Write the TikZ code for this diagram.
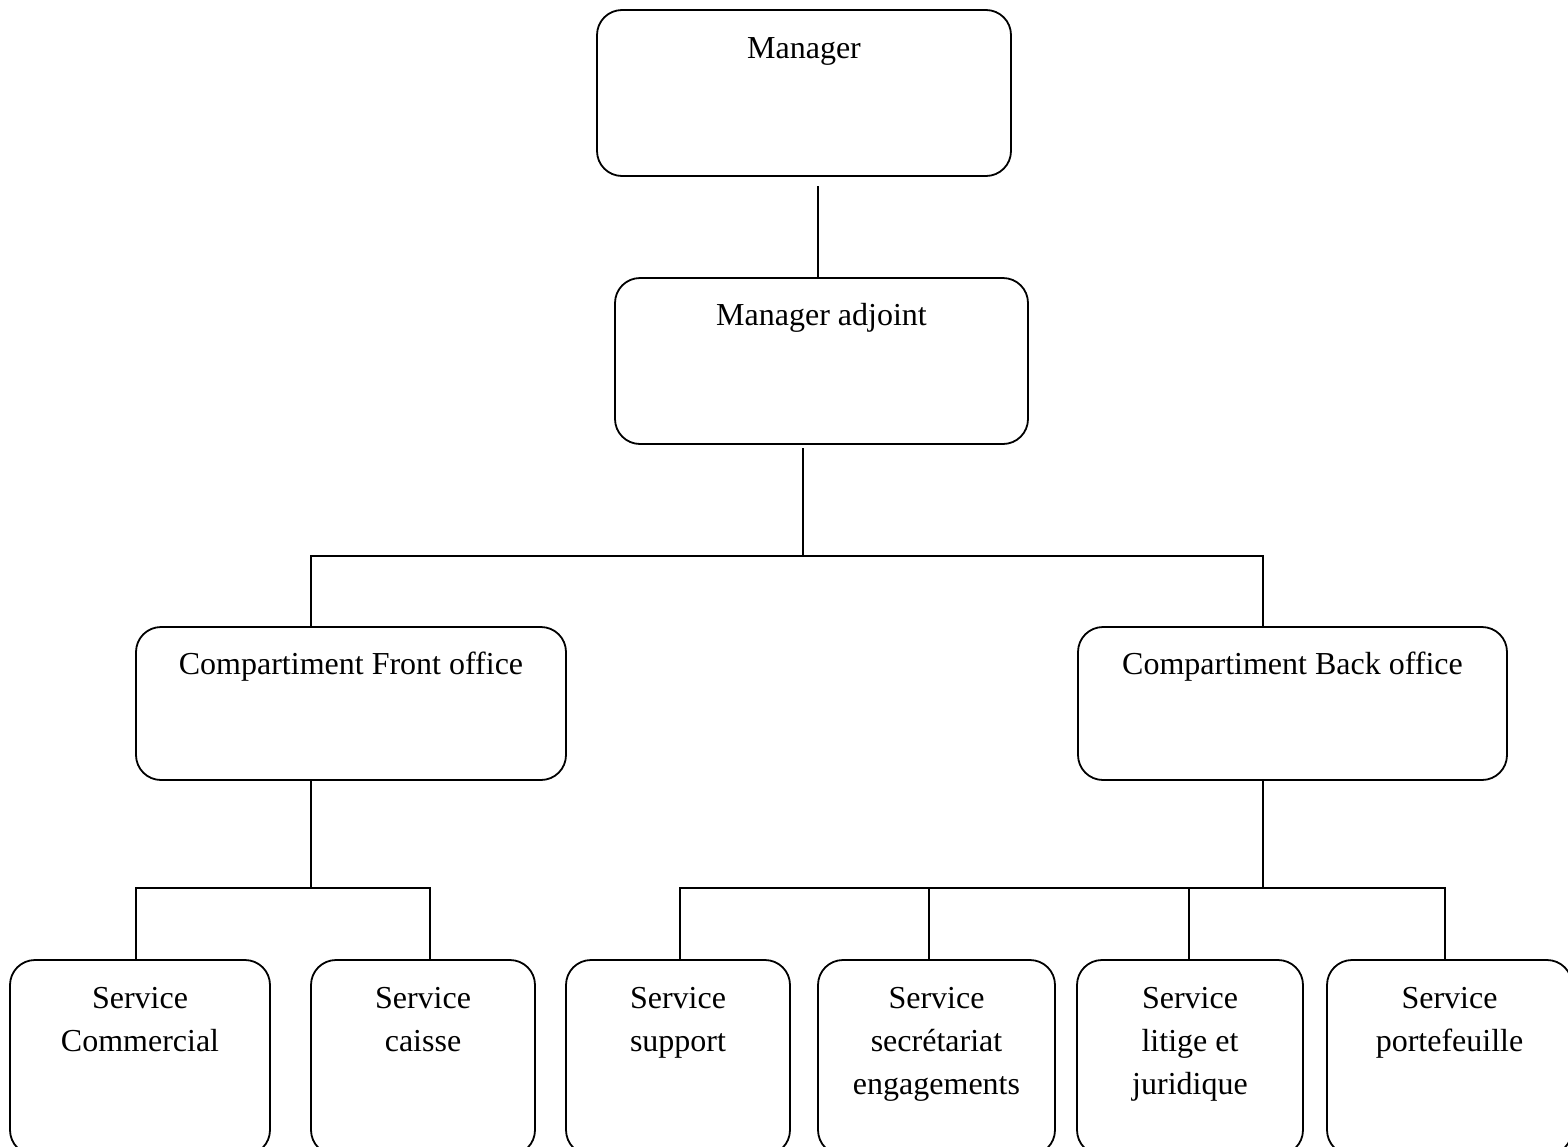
\documentclass[tikz,border=0pt]{standalone}
\usepackage{fontspec}
\setmainfont{Liberation Serif}
\usetikzlibrary{calc}
\tikzset{
  box/.style={draw, line width=0.9pt, rounded corners=12.5pt, inner sep=0pt, outer sep=0pt, minimum height=#1},
  box/.default=83pt,
  lbl/.style={anchor=base, inner sep=0pt, outer sep=0pt, font=\fontsize{16}{21.5}\selectfont},
  con/.style={line width=0.9pt}
}
\newcommand\twol[2]{\begin{tabular}[t]{@{}c@{}}#1\\#2\end{tabular}}
\newcommand\threel[3]{\begin{tabular}[t]{@{}c@{}}#1\\#2\\#3\end{tabular}}
\begin{document}
\begin{tikzpicture}[x=0.5pt,y=-0.5pt]
\useasboundingbox (0,0) rectangle (1568,1146);
% boxes
\node[box, minimum width=207pt] (mgr) at (804,93) {};
\node[box, minimum width=206.5pt] (adj) at (821.5,361) {};
\node[box=76.5pt, minimum width=215pt] (front) at (351,703.5) {};
\node[box=76.5pt, minimum width=214.5pt] (back) at (1292.5,703.5) {};
\node[box=97.5pt, minimum width=130pt] (sc) at (140,1057.5) {};
\node[box=97.5pt, minimum width=112pt] (cai) at (423,1057.5) {};
\node[box=97.5pt, minimum width=112pt] (sup) at (678,1057.5) {};
\node[box=97.5pt, minimum width=118.5pt] (sec) at (936.5,1057.5) {};
\node[box=97.5pt, minimum width=113pt] (lit) at (1190,1057.5) {};
\node[box=97.5pt, minimum width=122.5pt] (por) at (1449.5,1057.5) {};
% labels
\node[lbl] (lmgr) at ([yshift=-24pt]mgr.north) {Manager};
\node[lbl] (ladj) at ([yshift=-23.5pt]adj.north) {Manager adjoint};
\node[lbl] (lfront) at ([yshift=-23.5pt]front.north) {Compartiment Front office};
\node[lbl] (lback) at ([yshift=-23.5pt]back.north) {Compartiment Back office};
\node[lbl] (lsc) at ([yshift=-24pt]sc.north) {\twol{Service}{Commercial}};
\node[lbl] (lcai) at ([yshift=-24pt]cai.north) {\twol{Service}{caisse}};
\node[lbl] (lsup) at ([yshift=-24pt]sup.north) {\twol{Service}{support}};
\node[lbl] (lsec) at ([yshift=-24pt]sec.north) {\threel{Service}{secrétariat}{engagements}};
\node[lbl] (llit) at ([yshift=-24pt]lit.north) {\threel{Service}{litige et}{juridique}};
\node[lbl] (lpor) at ([yshift=-24pt]por.north) {\twol{Service}{portefeuille}};
% connector coordinates
\coordinate (x818) at (818,0);
\coordinate (m1) at (818,186);
\coordinate (a1) at (803,448);
\coordinate (j1) at (803,556);
\coordinate (xF) at (311,0);
\coordinate (xB) at (1263,0);
\coordinate (jF) at (311,888);
\coordinate (jB) at (1263,888);
\coordinate (x136) at (136,0);
\coordinate (x430) at (430,0);
\coordinate (x680) at (680,0);
\coordinate (x929) at (929,0);
\coordinate (x1189) at (1189,0);
\coordinate (x1445) at (1445,0);
\coordinate (jS) at (929,888);
\coordinate (jL) at (1189,888);
% connectors
\draw[con] (m1) -- (adj.north -| x818);
\draw[con] (a1) -- (j1);
\draw[con] (front.north -| xF) |- (j1) -| (back.north -| xB);
\draw[con] (front.south -| xF) -- (jF);
\draw[con] (sc.north -| x136) |- (jF) -| (cai.north -| x430);
\draw[con] (back.south -| xB) -- (jB);
\draw[con] (sup.north -| x680) |- (jB) -| (por.north -| x1445);
\draw[con] (sec.north -| x929) -- (jS);
\draw[con] (lit.north -| x1189) -- (jL);
\end{tikzpicture}
\end{document}
